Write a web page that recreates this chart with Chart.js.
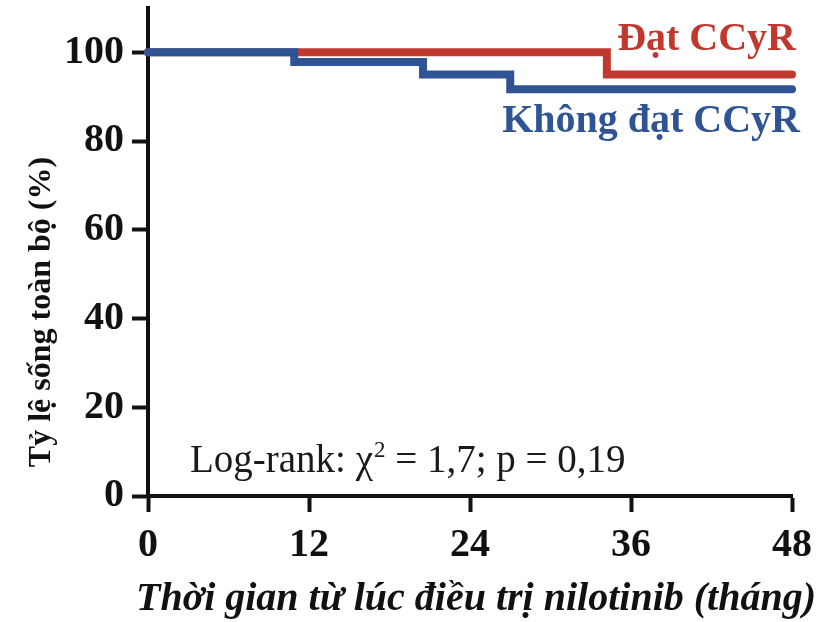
<!DOCTYPE html>
<html>
<head>
<meta charset="utf-8">
<script src="https://cdn.jsdelivr.net/npm/chart.js@4/dist/chart.umd.min.js"></script>
<style>
  html, body { margin: 0; padding: 0; background: #fff; }
  #wrap { width: 817px; height: 622px; }
</style>
</head>
<body>
<div id="wrap"><canvas id="km"></canvas></div>
<script>
// Kaplan-Meier steps (months, % survival)
const khongDatMonths = [0, 10.9, 20.5, 27.0, 48];
const khongDatSurv = [100, 97.8, 95.0, 91.7, 91.7];
const datMonths = [0, 34.2, 48];
const datSurv = [100, 95.0, 95.0];

const xTicks = [0, 12, 24, 36, 48];
const yTicks = [0, 20, 40, 60, 80, 100];

const RED = '#c0392e';
const BLUE = '#2f5496';
const INK = '#111111';
const SERIF = '"Liberation Serif", "Times New Roman", serif';

function toPoints(xs, ys) {
    return xs.map((x, i) => ({ x: x, y: ys[i] }));
}

// Text labels drawn on top: group names, log-rank note, axis titles
const annotations = {
    id: 'annotations',
    afterDraw(chart) {
        const ctx = chart.ctx;
        ctx.save();

        ctx.textBaseline = 'middle';
        ctx.textAlign = 'right';
        ctx.font = 'bold 40px ' + SERIF;
        ctx.fillStyle = RED;
        ctx.fillText('Đạt CCyR', 796, 40);
        ctx.fillStyle = BLUE;
        ctx.fillText('Không đạt CCyR', 800, 122);

        // log-rank note with superscript 2
        ctx.textAlign = 'left';
        ctx.textBaseline = 'alphabetic';
        ctx.fillStyle = '#1a1a1a';
        ctx.font = '39px ' + SERIF;
        let x = 190;
        const base = 472;
        const p1 = 'Log-rank: χ';
        ctx.fillText(p1, x, base);
        x += ctx.measureText(p1).width;
        ctx.font = '23px ' + SERIF;
        ctx.fillText('2', x + 1, base - 15);
        x += ctx.measureText('2').width + 1;
        ctx.font = '39px ' + SERIF;
        ctx.fillText(' = 1,7; p = 0,19', x, base);

        // x axis title
        ctx.fillStyle = INK;
        ctx.textAlign = 'center';
        ctx.textBaseline = 'middle';
        ctx.font = 'italic bold 40px ' + SERIF;
        ctx.fillText('Thời gian từ lúc điều trị nilotinib (tháng)', 476, 600);

        // y axis title
        ctx.translate(42, 312);
        ctx.rotate(-Math.PI / 2);
        ctx.font = 'bold 32px ' + SERIF;
        ctx.fillText('Tỷ lệ sống toàn bộ (%)', 0, 0);

        ctx.restore();
    }
};

const ctx = document.getElementById('km').getContext('2d');
new Chart(ctx, {
    type: 'line',
    data: {
        datasets: [
            {
                label: 'Không đạt CCyR',
                data: toPoints(khongDatMonths, khongDatSurv),
                borderColor: BLUE,
                borderWidth: 8,
                stepped: 'before',
                pointRadius: 0,
                borderCapStyle: 'round',
                clip: false
            },
            {
                label: 'Đạt CCyR',
                data: toPoints(datMonths, datSurv),
                borderColor: RED,
                borderWidth: 8,
                stepped: 'before',
                pointRadius: 0,
                borderCapStyle: 'round',
                clip: false
            }
        ]
    },
    options: {
        responsive: true,
        maintainAspectRatio: false,
        animation: false,
        layout: { padding: { top: 8, right: 25, left: 0, bottom: 0 } },
        plugins: {
            legend: { display: false },
            tooltip: { enabled: false }
        },
        scales: {
            x: {
                type: 'linear',
                min: 0,
                max: 48,
                afterFit(scale) {
                    scale.height = 126;
                    scale.paddingLeft = 0;
                    scale.paddingRight = 0;
                },
                afterBuildTicks(scale) { scale.ticks = xTicks.map(v => ({ value: v })); },
                border: { width: 4, color: INK },
                grid: { drawOnChartArea: false, tickLength: 16, tickWidth: 4, tickColor: INK },
                ticks: {
                    color: INK,
                    padding: 10,
                    font: { family: SERIF, size: 40, weight: 'bold' }
                }
            },
            y: {
                type: 'linear',
                min: 0,
                max: 110,
                afterFit(scale) {
                    scale.width = 148;
                    scale.paddingTop = 0;
                    scale.paddingBottom = 0;
                },
                afterBuildTicks(scale) { scale.ticks = yTicks.map(v => ({ value: v })); },
                border: { width: 4, color: INK },
                grid: { drawOnChartArea: false, tickLength: 16, tickWidth: 4, tickColor: INK },
                ticks: {
                    color: INK,
                    padding: 8,
                    font: { family: SERIF, size: 40, weight: 'bold' }
                }
            }
        }
    },
    plugins: [annotations]
});
</script>
</body>
</html>
